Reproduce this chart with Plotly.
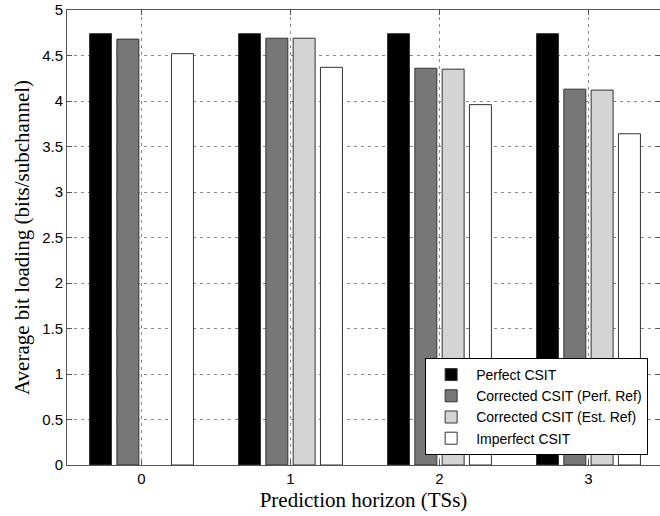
import plotly.graph_objects as go

horizons = [0, 1, 2, 3]
tick_labels = ["0", "1", "2", "3"]
perfect_csit = [4.74, 4.74, 4.74, 4.74]
corrected_perf_ref = [4.68, 4.69, 4.36, 4.13]
corrected_est_ref = [None, 4.69, 4.35, 4.12]
imperfect_csit = [4.52, 4.37, 3.96, 3.64]

series = [
    ("Perfect CSIT", perfect_csit, "#000000"),
    ("Corrected CSIT (Perf. Ref)", corrected_perf_ref, "#777777"),
    ("Corrected CSIT (Est. Ref)", corrected_est_ref, "#d4d4d4"),
    ("Imperfect CSIT", imperfect_csit, "#ffffff"),
]

fig = go.Figure()
for name, vals, col in series:
    fig.add_trace(go.Bar(
        x=horizons, y=vals, name=name,
        marker=dict(color=col, line=dict(color="#333333", width=1)),
    ))

fig.update_layout(
    width=660, height=516,
    margin=dict(l=67, r=0, t=10, b=51),
    paper_bgcolor="white", plot_bgcolor="white",
    barmode="group", bargap=0.267, bargroupgap=0.195,
    font=dict(family="Liberation Sans, Arial", size=15, color="#000000"),
    showlegend=True,
    legend=dict(
        x=0.98, xanchor="right", y=0.022, yanchor="bottom",
        bgcolor="white", bordercolor="#000000", borderwidth=1,
        font=dict(family="Liberation Sans, Arial", size=14),
        tracegroupgap=0, itemwidth=40,
    ),
)
fig.update_xaxes(
    range=[-0.5, 3.48],
    tickvals=horizons, ticktext=tick_labels,
    showgrid=True, gridcolor="#8a8a8a", griddash="3px,4px", gridwidth=1,
    showline=True, linecolor="#555555", linewidth=1, mirror="ticks",
    ticks="inside", ticklen=5, tickcolor="#555555",
    zeroline=False,
    title=dict(text="Prediction horizon (TSs)",
               font=dict(family="Liberation Serif, Times New Roman", size=21),
               standoff=6),
    tickfont=dict(size=15),
)
fig.update_yaxes(
    range=[0, 5], dtick=0.5,
    showgrid=True, gridcolor="#8a8a8a", griddash="3px,4px", gridwidth=1,
    showline=True, linecolor="#555555", linewidth=1, mirror="ticks",
    ticks="inside", ticklen=5, tickcolor="#555555",
    zeroline=False,
    title=dict(text="Average bit loading (bits/subchannel)",
               font=dict(family="Liberation Serif, Times New Roman", size=21),
               standoff=6),
    tickfont=dict(size=15),
)

fig.write_html("out.html")
